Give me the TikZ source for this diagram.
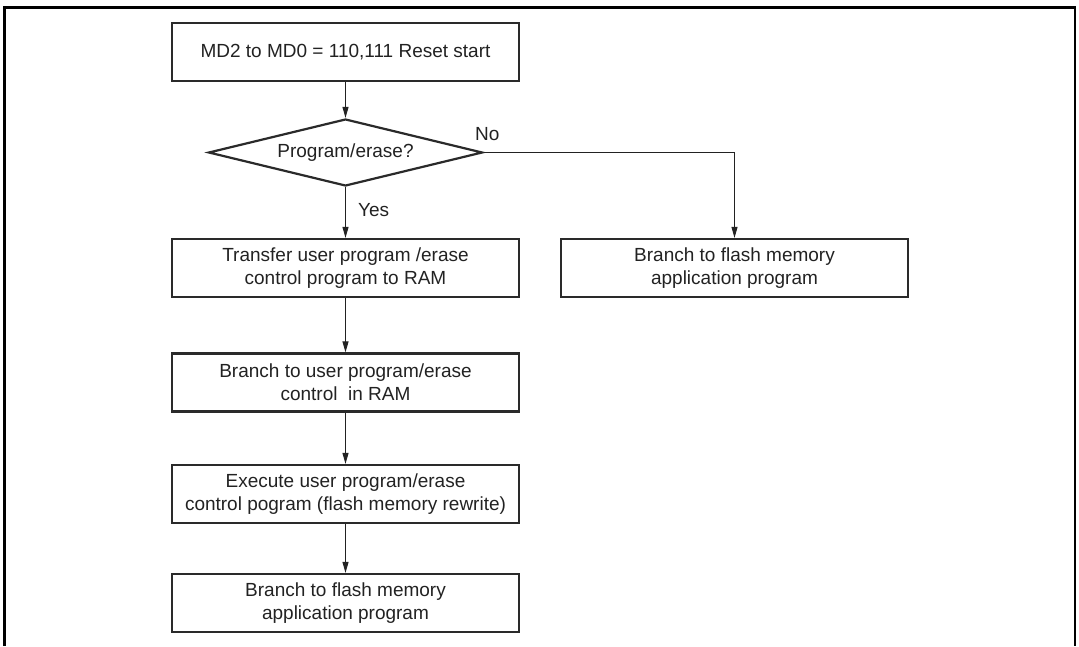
\documentclass[tikz,border=0pt]{standalone}
\usepackage{fontspec}
\setmainfont{Liberation Sans}
\usetikzlibrary{shapes.geometric,arrows.meta}
\definecolor{ink}{HTML}{222222}
\definecolor{boxline}{HTML}{2A2A2A}
\begin{document}
\begin{tikzpicture}[x=1pt,y=-1pt,
  stepbox/.style={draw=boxline,line width=2.2pt,minimum width=347pt,minimum height=58pt,
    inner sep=0pt,align=center,text=ink,font=\fontsize{19}{23}\selectfont},
  decide/.style={draw=boxline,shape=diamond,line width=2.2pt,aspect=4.09,minimum width=274pt,
    minimum height=67pt,inner sep=0pt,text=ink,font=\fontsize{19}{23}\selectfont},
  flow/.style={draw=ink,line width=1pt,-{Triangle[length=11pt,width=6pt]}},
  lbl/.style={text=ink,font=\fontsize{19}{23}\selectfont,inner sep=0pt}]
\useasboundingbox (0,0) rectangle (1079,646);
\draw[line width=2.5pt,black] (4.5,646) -- (4.5,7.5) -- (1075,7.5) -- (1075,646);
\node[stepbox] (start) at (345.5,52) {MD2 to MD0 = 110,111 Reset start};
\node[decide] (dec) at (345.5,152.5) {Program/erase?};
\node[stepbox] (transfer) at (345.5,268) {Transfer user program /erase\\control program to RAM};
\node[stepbox] (branch) at (345.5,382.5) {Branch to user program/erase\\control~ in RAM};
\node[stepbox] (exec) at (345.5,494) {Execute user program/erase\\control pogram (flash memory rewrite)};
\node[stepbox] (flash) at (345.5,603) {Branch to flash memory\\application program};
\node[stepbox] (flashr) at (734.5,268) {Branch to flash memory\\application program};
\coordinate (turn) at (734.5,152.5);
\draw[flow] (start) -- (dec);
\draw[flow] (dec) -- (transfer);
\draw[flow] (transfer) -- (branch);
\draw[flow] (branch) -- (exec);
\draw[flow] (exec) -- (flash);
\draw[flow] (dec.east) -- (turn) -- (flashr);
\node[lbl,anchor=west] (yes) at (358,210) {Yes};
\node[lbl,anchor=west] (no) at (475,134) {No};
\end{tikzpicture}
\end{document}
